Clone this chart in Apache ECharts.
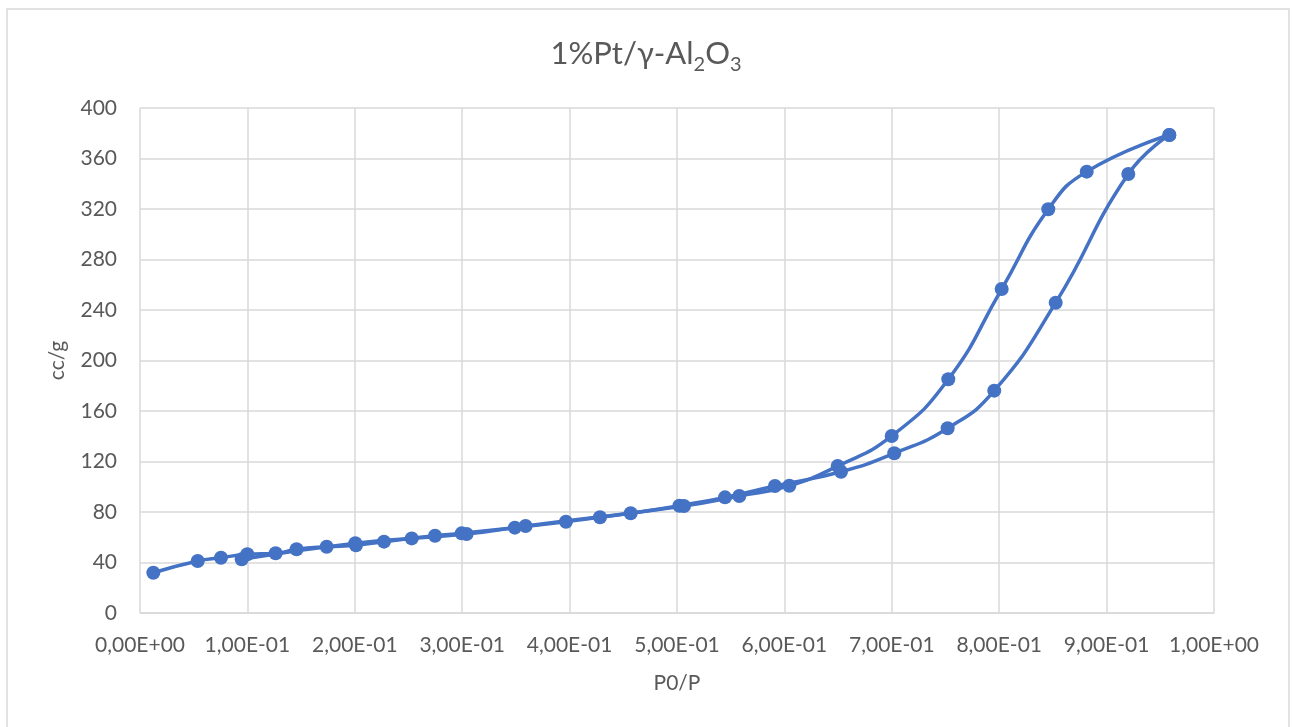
<!DOCTYPE html>
<html>
<head>
<meta charset="utf-8">
<script src="https://cdn.jsdelivr.net/npm/echarts@6/dist/echarts.min.js"></script>
<style>
  html, body { margin: 0; padding: 0; background: #fff; }
  #chart { width: 1292px; height: 727px; }
</style>
</head>
<body>
<div id="chart"></div>
<script>
// adsorption branch (lower): [P0/P, cc/g]
const adsorption = [
  [0.0124, 31.9], [0.0537, 41.2], [0.0754, 43.8], [0.0999, 46.5], [0.1263, 47.3],
  [0.1458, 50.5], [0.1738, 52.5], [0.2011, 53.6], [0.2272, 56.5], [0.2530, 59.1],
  [0.2747, 61.2], [0.2995, 63.1], [0.3490, 67.6], [0.3966, 72.3], [0.4283, 75.8],
  [0.4569, 79.0], [0.5022, 85.0], [0.5447, 91.6], [0.5912, 100.6], [0.6527, 111.9],
  [0.7023, 126.5], [0.7520, 146.3], [0.7954, 176.1], [0.8526, 245.8], [0.9202, 347.7],
  [0.9584, 378.6]
]
// desorption branch (upper), going back down
const desorption = [
  [0.9584, 378.6], [0.8815, 349.6], [0.8457, 319.8], [0.8023, 256.6], [0.7526, 185.1],
  [0.6999, 140.2], [0.6496, 116.4], [0.6046, 100.8], [0.5580, 92.7], [0.5065, 84.8],
  [0.3590, 68.9], [0.3041, 62.6], [0.2005, 55.3], [0.0947, 42.5]
]
const yTicks = { min: 0, max: 400, interval: 40 }
const xTicks = { min: 0, max: 1, interval: 0.1 }

const blue = '#4472C4'
const grey = '#595959'
const gridGrey = '#d9d9d9'
const font = 'Lato, "Open Sans", sans-serif'

// 0.1 -> "1,00E-01"
function sci(v) {
  const [m, e] = v.toExponential(2).split('e')
  const n = parseInt(e, 10)
  const exp = (n < 0 ? '-' : '+') + String(Math.abs(n)).padStart(2, '0')
  return m.replace('.', ',') + 'E' + exp
}

const branch = (name, data) => ({
  name,
  type: 'line',
  data,
  smooth: 0.5,
  symbol: 'circle',
  symbolSize: 14,
  lineStyle: { color: blue, width: 3.5 },
  itemStyle: { color: blue },
  emphasis: { disabled: true },
})

const chart = echarts.init(document.getElementById('chart'))
chart.setOption({
  backgroundColor: '#fff',
  animation: false,
  textStyle: { fontFamily: font },
  graphic: [{
    type: 'rect',
    shape: { x: 7, y: 9, width: 1282, height: 740 },
    style: { fill: 'none', stroke: gridGrey, lineWidth: 1.5 },
    silent: true,
  }],
  title: {
    text: '{m|1%Pt/γ-Al}{s|2}{m|O}{s|3}',
    left: 'center',
    top: 33,
    textStyle: {
      fontWeight: 'normal',
      rich: {
        m: { fontFamily: font, fontSize: 31, lineHeight: 31, fontWeight: 'normal', color: grey, verticalAlign: 'top' },
        s: { fontFamily: font, fontSize: 20, lineHeight: 20, fontWeight: 'normal', color: grey, verticalAlign: 'top', padding: [17, 0, 0, 0] },
      },
    },
  },
  grid: { left: 140, right: 78, top: 108, bottom: 114, containLabel: false },
  xAxis: {
    type: 'value',
    ...xTicks,
    name: 'P0/P',
    nameLocation: 'middle',
    nameGap: 60,
    nameTextStyle: { color: grey, fontSize: 21, fontFamily: font },
    axisLine: { show: true, lineStyle: { color: gridGrey, width: 1.5 } },
    axisTick: { show: false },
    axisLabel: { color: grey, fontSize: 21, margin: 22, formatter: sci, fontFamily: font },
    splitLine: { show: true, lineStyle: { color: gridGrey, width: 1.5 } },
  },
  yAxis: {
    type: 'value',
    ...yTicks,
    name: 'cc/g',
    nameLocation: 'middle',
    nameGap: 72,
    nameTextStyle: { color: grey, fontSize: 21, fontFamily: font },
    axisLine: { show: false },
    axisTick: { show: false },
    axisLabel: { color: grey, fontSize: 21, margin: 23, fontFamily: font },
    splitLine: { show: true, lineStyle: { color: gridGrey, width: 1.5 } },
  },
  series: [branch('adsorption', adsorption), branch('desorption', desorption)],
})
</script>
</body>
</html>
